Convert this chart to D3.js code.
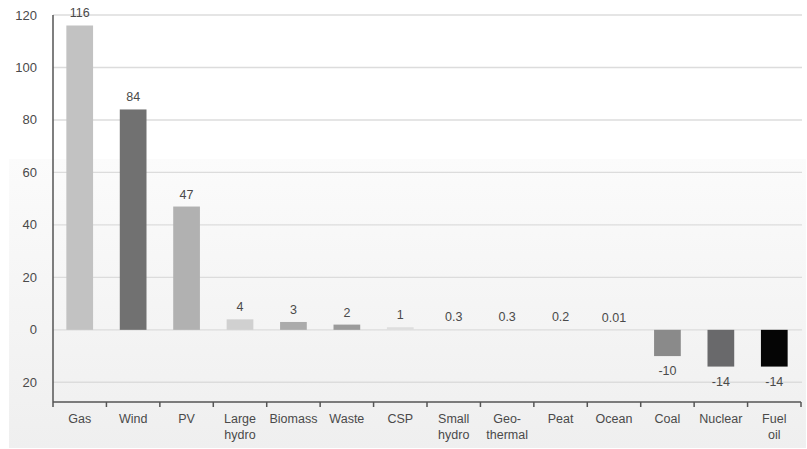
<!DOCTYPE html>
<html>
<head>
<meta charset="utf-8">
<script src="https://cdn.jsdelivr.net/npm/d3@7"></script>
<style>
  html, body { margin: 0; padding: 0; background: #fff; }
  svg { display: block; }
  text { font-family: "Liberation Sans", Arial, sans-serif; fill: #4a4a4a; }
</style>
</head>
<body>
<svg id="chart" width="807" height="449"></svg>
<script>
// Net capacity additions by technology (GW)
const categories = ["Gas", "Wind", "PV", "Large\nhydro", "Biomass", "Waste", "CSP",
                    "Small\nhydro", "Geo-\nthermal", "Peat", "Ocean", "Coal", "Nuclear", "Fuel\noil"];
const values = [116, 84, 47, 4, 3, 2, 1, 0.3, 0.3, 0.2, 0.01, -10, -14, -14];
const valueLabels = ["116", "84", "47", "4", "3", "2", "1", "0.3", "0.3", "0.2", "0.01", "-10", "-14", "-14"];
const barColors = ["#c2c2c2", "#717171", "#b1b1b1", "#d0d0d0", "#ababab", "#9b9b9b", "#dedede",
                   "#e2e2e2", "#e2e2e2", "#e2e2e2", "#e2e2e2", "#8a8a8a", "#69696b", "#050505"];
const yTicks = [120, 100, 80, 60, 40, 20, 0, -20];
const yTickLabels = ["120", "100", "80", "60", "40", "20", "0", "20"];

const svg = d3.select("#chart");
const margin = { left: 53, right: 6, top: 15, bottom: 47 };
const W = 807, H = 449;

// soft grey panel behind the lower part of the chart
const defs = svg.append("defs");
const grad = defs.append("linearGradient").attr("id", "panel")
  .attr("x1", 0).attr("y1", 0).attr("x2", 0).attr("y2", 1);
grad.append("stop").attr("offset", "0%").attr("stop-color", "#fbfbfb");
grad.append("stop").attr("offset", "100%").attr("stop-color", "#efefef");
svg.append("rect").attr("x", 9).attr("y", 159).attr("width", 797).attr("height", 289)
  .attr("fill", "url(#panel)");

const x = d3.scaleBand()
  .domain(categories)
  .range([margin.left, W - margin.right])
  .paddingInner(0.5).paddingOuter(0.25);

const y = d3.scaleLinear()
  .domain([-27.5, 120])
  .range([H - margin.bottom, margin.top]);

// horizontal gridlines
svg.append("g").selectAll("line").data(yTicks).join("line")
  .attr("x1", margin.left).attr("x2", 802)
  .attr("y1", d => y(d)).attr("y2", d => y(d))
  .attr("stroke", "#dcdcdc").attr("stroke-width", 1.4);

// y tick labels
svg.append("g").selectAll("text").data(yTicks).join("text")
  .attr("x", margin.left - 16)
  .attr("y", d => y(d))
  .attr("dy", "0.35em")
  .attr("text-anchor", "end")
  .attr("font-size", 13)
  .text((d, i) => yTickLabels[i]);

// bars
svg.append("g").selectAll("rect").data(values).join("rect")
  .attr("x", (d, i) => x(categories[i]))
  .attr("width", x.bandwidth())
  .attr("y", d => y(Math.max(0, d)))
  .attr("height", d => Math.abs(y(d) - y(0)))
  .attr("fill", (d, i) => barColors[i]);

// value labels
svg.append("g").selectAll("text").data(values).join("text")
  .attr("x", (d, i) => x(categories[i]) + x.bandwidth() / 2)
  .attr("y", d => d >= 0 ? y(d) - 8 : y(d) + 19)
  .attr("text-anchor", "middle")
  .attr("font-size", 12.5)
  .text((d, i) => valueLabels[i]);

// y axis line
svg.append("line")
  .attr("x1", margin.left).attr("x2", margin.left)
  .attr("y1", margin.top).attr("y2", H - margin.bottom)
  .attr("stroke", "#555").attr("stroke-width", 1.5);

// x axis with ticks at band boundaries
const xAxisY = H - margin.bottom;
svg.append("line")
  .attr("x1", margin.left).attr("x2", W - margin.right)
  .attr("y1", xAxisY).attr("y2", xAxisY)
  .attr("stroke", "#555").attr("stroke-width", 1.5);
const step = x.step();
const boundaries = d3.range(categories.length + 1).map(i => margin.left + i * (W - margin.right - margin.left) / categories.length);
svg.append("g").selectAll("line").data(boundaries).join("line")
  .attr("x1", d => d).attr("x2", d => d)
  .attr("y1", xAxisY).attr("y2", xAxisY + 5)
  .attr("stroke", "#555").attr("stroke-width", 1.5);

// category labels (may span two lines)
const catG = svg.append("g").selectAll("text").data(categories).join("text")
  .attr("x", d => x(d) + x.bandwidth() / 2)
  .attr("y", xAxisY + 21)
  .attr("text-anchor", "middle")
  .attr("font-size", 12.5);
catG.each(function (d) {
  const t = d3.select(this);
  const cx = x(d) + x.bandwidth() / 2;
  d.split("\n").forEach((line, j) => {
    t.append("tspan").attr("x", cx).attr("dy", j === 0 ? 0 : 16).text(line);
  });
});
</script>
</body>
</html>
